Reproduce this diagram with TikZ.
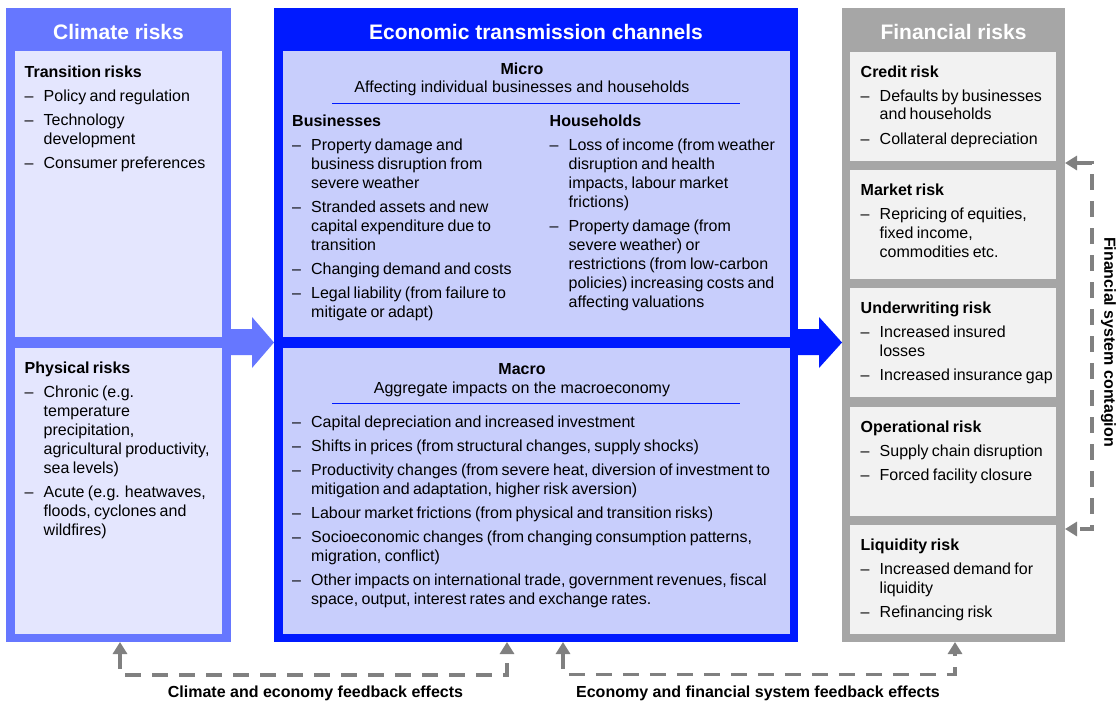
\documentclass[tikz,border=0pt]{standalone}
\usepackage{fontspec}
\setmainfont{Liberation Sans}
\usetikzlibrary{arrows.meta,calc}
\definecolor{climOut}{RGB}{102,119,255}
\definecolor{climIn}{RGB}{228,230,254}
\definecolor{econOut}{RGB}{0,26,255}
\definecolor{econIn}{RGB}{200,206,252}
\definecolor{finOut}{RGB}{166,166,166}
\definecolor{finIn}{RGB}{242,242,242}
\definecolor{fbGray}{RGB}{128,128,128}
\newcommand\itm{\par\hangindent=19pt\hangafter=1\noindent\makebox[19pt][l]{–}}
\newcommand\bodyset{\fontsize{16pt}{19pt}\selectfont\setlength{\parskip}{5pt}\raggedright}
\begin{document}
\begin{tikzpicture}[x=1pt,y=-1pt,
  rbox/.style={rectangle, inner sep=0pt, outer sep=0pt, draw=none, anchor=north west},
  ttl/.style={font=\fontsize{21pt}{25pt}\selectfont\bfseries, text=white, anchor=base, inner sep=0pt},
  txt/.style={anchor=base west, inner sep=0pt, text width=#1},
  hd/.style={font=\fontsize{16pt}{19pt}\selectfont\bfseries, anchor=base, inner sep=0pt},
  sub/.style={font=\fontsize{16pt}{19pt}\selectfont, anchor=base, inner sep=0pt},
  fb/.style={draw=fbGray, line width=3.5pt, dash pattern=on 16pt off 11pt,
    {Triangle[width=14pt,length=12pt]}-{Triangle[width=14pt,length=12pt]}},
  uline/.style={draw=econOut, line width=1.5pt}
]
\useasboundingbox (0,0) rectangle (1117,704);
\fill[white] (0,0) rectangle (1117,704);

% outer columns
\node[rbox, fill=climOut, minimum width=225pt, minimum height=634pt] (climate) at (6,8) {};
\node[rbox, fill=econOut, minimum width=524pt, minimum height=634pt] (econ) at (274,8) {};
\node[rbox, fill=finOut, minimum width=223pt, minimum height=634pt] (fin) at (842,8) {};

% block arrows
\fill[climOut] (231,329) -- (252,329) -- (252,317) -- (274,342.5) -- (252,368) -- (252,355) -- (231,355) -- cycle;
\fill[econOut] (797,329) -- (819,329) -- (819,317) -- (842,342.5) -- (819,368) -- (819,355) -- (797,355) -- cycle;

% inner boxes
\node[rbox, fill=climIn, minimum width=207pt, minimum height=286pt] (trans) at (15,51) {};
\node[rbox, fill=climIn, minimum width=207pt, minimum height=286.5pt] (phys) at (15,347.5) {};
\node[rbox, fill=econIn, minimum width=507pt, minimum height=286pt] (micro) at (283,51) {};
\node[rbox, fill=econIn, minimum width=507pt, minimum height=286.5pt] (macro) at (283,347.5) {};
\node[rbox, fill=finIn, minimum width=206pt, minimum height=109.5pt] (credit) at (850,51.5) {};
\node[rbox, fill=finIn, minimum width=206pt, minimum height=109pt] (market) at (850,170) {};
\node[rbox, fill=finIn, minimum width=206pt, minimum height=109pt] (underw) at (850,288) {};
\node[rbox, fill=finIn, minimum width=206pt, minimum height=109.5pt] (oper) at (850,406.5) {};
\node[rbox, fill=finIn, minimum width=206pt, minimum height=109pt] (liq) at (850,525) {};

% titles
\node[ttl] (tclim) at (118.5,39) {Climate risks};
\node[ttl] (tecon) at (536,39) {Economic transmission channels};
\node[ttl] (tfin) at (953.5,39) {Financial risks};

% climate risks text
\node[txt=195pt] (xtrans) at (24.5,77) {\bodyset\textbf{Transition risks}%
\itm Policy and regulation%
\itm Technology\newline development%
\itm Consumer preferences\par};
\node[txt=195pt] (xphys) at (24.5,373.5) {\bodyset\textbf{Physical risks}%
\itm Chronic (e.g.\newline temperature\newline precipitation,\newline agricultural productivity,\newline sea levels)%
\itm Acute (e.g. heatwaves,\newline floods, cyclones and\newline wildfires)\par};

% micro
\node[hd] (microhd) at (522,74) {Micro};
\node[sub] (microsub) at (522,92.5) {Affecting individual businesses and households};
\draw[uline] (332,103.5) -- (740,103.5);
\node[txt=250pt] (xbus) at (292,126) {\bodyset\textbf{Businesses}%
\itm Property damage and\newline business disruption from\newline severe weather%
\itm Stranded assets and new\newline capital expenditure due to\newline transition%
\itm Changing demand and costs%
\itm Legal liability (from failure to\newline mitigate or adapt)\par};
\node[txt=235pt] (xhh) at (549.5,126) {\bodyset\textbf{Households}%
\itm Loss of income (from weather\newline disruption and health\newline impacts, labour market\newline frictions)%
\itm Property damage (from\newline severe weather) or\newline restrictions (from low-carbon\newline policies) increasing costs and\newline affecting valuations\par};

% macro
\node[hd] (macrohd) at (522,374) {Macro};
\node[sub] (macrosub) at (522,393) {Aggregate impacts on the macroeconomy};
\draw[uline] (332,403.5) -- (740,403.5);
\node[txt=495pt] (xmacro) at (292,427) {\bodyset%
\hangindent=19pt\hangafter=1\noindent\makebox[19pt][l]{–}Capital depreciation and increased investment%
\itm Shifts in prices (from structural changes, supply shocks)%
\itm Productivity changes (from severe heat, diversion of investment to\newline mitigation and adaptation, higher risk aversion)%
\itm Labour market frictions (from physical and transition risks)%
\itm Socioeconomic changes (from changing consumption patterns,\newline migration, conflict)%
\itm Other impacts on international trade, government revenues, fiscal\newline space, output, interest rates and exchange rates.\par};

% financial risks text
\node[txt=195pt] (xcredit) at (860.5,77) {\bodyset\textbf{Credit risk}%
\itm Defaults by businesses\newline and households%
\itm Collateral depreciation\par};
\node[txt=195pt] (xmarket) at (860.5,195.5) {\bodyset\textbf{Market risk}%
\itm Repricing of equities,\newline fixed income,\newline commodities etc.\par};
\node[txt=195pt] (xunderw) at (860.5,313.5) {\bodyset\textbf{Underwriting risk}%
\itm Increased insured\newline losses%
\itm Increased insurance gap\par};
\node[txt=195pt] (xoper) at (860.5,432) {\bodyset\textbf{Operational risk}%
\itm Supply chain disruption%
\itm Forced facility closure\par};
\node[txt=195pt] (xliq) at (860.5,550.5) {\bodyset\textbf{Liquidity risk}%
\itm Increased demand for\newline liquidity%
\itm Refinancing risk\par};

% feedback arrows
\coordinate (fa1) at (120,675);
\coordinate (fa2) at (507,675);
\draw[fb] (climate.south -| fa1) -- (fa1) -- (fa2) -- (econ.south -| fa2);
\coordinate (fb1) at (563,674.5);
\coordinate (fb2) at (955,674.5);
\draw[fb] (econ.south -| fb1) -- (fb1) -- (fb2) -- (fin.south -| fb2);
\coordinate (fc1) at (1092,163);
\coordinate (fc2) at (1092,529);
\draw[fb] (fin.east |- fc1) -- (fc1) -- (fc2) -- (fin.east |- fc2);

\node[hd] (lbl1) at (315.5,697) {Climate and economy feedback effects};
\node[hd] (lbl2) at (758,697) {Economy and financial system feedback effects};
\node[hd, anchor=center, rotate=-90] (lbl3) at (1108.5,342) {Financial system contagion};
\end{tikzpicture}
\end{document}
